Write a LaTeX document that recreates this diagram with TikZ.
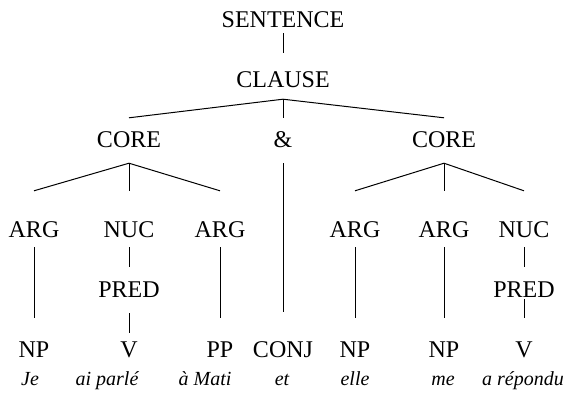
\documentclass[tikz,border=0pt]{standalone}
\usepackage{fontspec}
\setmainfont{Liberation Serif}
\usepackage{tikz}
\usetikzlibrary{positioning}
\tikzset{
  cat/.style={font=\fontsize{24}{28}\selectfont, inner sep=0pt, anchor=base, text height=15pt, text depth=0pt},
  wd/.style={font=\fontsize{20}{24}\selectfont\itshape, inner sep=0pt, anchor=base},
  ln/.style={line width=1pt, black},
}

\begin{document}
\begin{tikzpicture}[x=1pt, y=-1pt]
    \useasboundingbox (0,0) rectangle (565,394);
    \node[cat, text depth=6pt] (sentence) at (283,27) {SENTENCE};
    \node[cat, text height=34pt, text depth=12pt] (clause) at (283,87) {CLAUSE};
    \node[cat, text height=29pt, text depth=16pt] (coreL) at (129,147) {CORE};
    \node[cat, text height=29pt, text depth=16pt] (amp) at (283,147) {\&};
    \node[cat, text height=29pt, text depth=16pt] (coreR) at (444,147) {CORE};
    \node[cat, text height=46pt, text depth=10pt] (argA) at (34,237) {ARG};
    \node[cat, text height=46pt, text depth=10pt] (nucA) at (129,237) {NUC};
    \node[cat, text height=46pt, text depth=10pt] (argB) at (220,237) {ARG};
    \node[cat, text height=46pt, text depth=10pt] (argC) at (355,237) {ARG};
    \node[cat, text height=46pt, text depth=10pt] (argD) at (444,237) {ARG};
    \node[cat, text height=46pt, text depth=10pt] (nucB) at (524,237) {NUC};
    \node[cat, text height=30pt] (predA) at (129,297) {PRED};
    \node[cat, text height=30pt] (predB) at (524,297) {PRED};
    \node[cat, text height=39pt] (npA) at (34,357) {NP};
    \node[cat, text height=24pt] (vA) at (129,357) {V};
    \node[cat, text height=39pt] (ppA) at (220,357) {PP};
    \node[cat, text height=45pt] (conj) at (283,357) {CONJ};
    \node[cat, text height=39pt] (npB) at (355,357) {NP};
    \node[cat, text height=39pt] (npC) at (444,357) {NP};
    \node[cat, text height=39pt] (vB) at (524,357) {V};
    \node[wd] (je) at (30,385) {Je};
    \node[wd] (parle) at (107,385) {ai parlé};
    \node[wd] (mati) at (205,385) {à Mati};
    \node[wd] (et) at (282,385) {et};
    \node[wd] (elle) at (355,385) {elle};
    \node[wd] (me) at (443,385) {me};
    \node[wd] (repondu) at (523,385) {a répondu};
    \draw[ln] (sentence.south) -- (clause.north);
    \draw[ln] (clause.south) -- (coreL.north);
    \draw[ln] (clause.south) -- (amp.north);
    \draw[ln] (clause.south) -- (coreR.north);
    \draw[ln] (coreL.south) -- (argA.north);
    \draw[ln] (coreL.south) -- (nucA.north);
    \draw[ln] (coreL.south) -- (argB.north);
    \draw[ln] (coreR.south) -- (argC.north);
    \draw[ln] (coreR.south) -- (argD.north);
    \draw[ln] (coreR.south) -- (nucB.north);
    \draw[ln] (amp.south) -- (conj.north);
    \draw[ln] (argA.south) -- (npA.north);
    \draw[ln] (argB.south) -- (ppA.north);
    \draw[ln] (argC.south) -- (npB.north);
    \draw[ln] (argD.south) -- (npC.north);
    \draw[ln] (nucA.south) -- (predA.north);
    \draw[ln] (nucB.south) -- (predB.north);
    \draw[ln, shorten <=16pt] (predA.south) -- (vA.north);
    \draw[ln, shorten <=2pt] (predB.south) -- (vB.north);
  \end{tikzpicture}
\end{document}
